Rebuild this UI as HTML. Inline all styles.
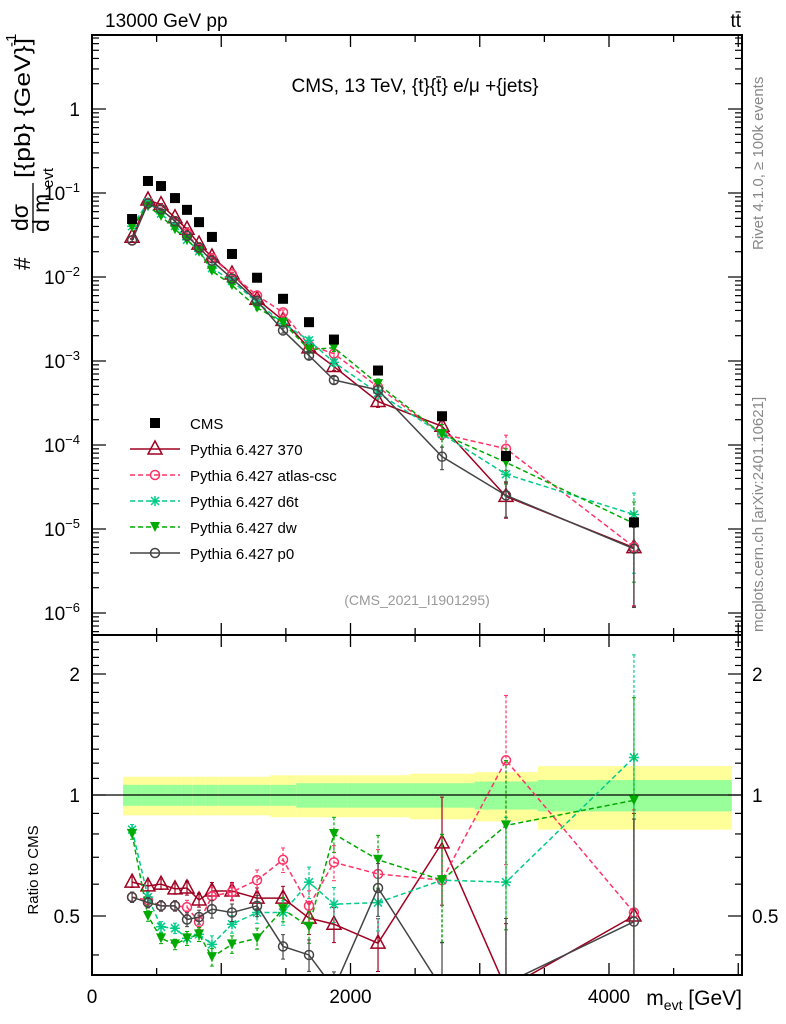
<!DOCTYPE html>
<html><head><meta charset="utf-8"><style>
html,body{margin:0;background:#fff;font-family:"Liberation Sans",sans-serif;width:786px;height:1024px;overflow:hidden}
svg{display:block}
</style></head><body>
<svg id="c" width="786" height="1024" viewBox="0 0 786 1024" xmlns="http://www.w3.org/2000/svg" font-family="Liberation Sans, sans-serif">
<text x="105" y="27" font-size="19">13000 GeV pp</text>
<text x="741" y="27" font-size="19" text-anchor="end">tt̄</text>
<text x="415" y="92" font-size="19" text-anchor="middle">CMS, 13 TeV, {t}{t̄} e/μ +{jets}</text>
<text transform="translate(763,250) rotate(-90)" font-size="15" fill="#888">Rivet 4.1.0, ≥ 100k events</text>
<text transform="translate(763,632) rotate(-90)" font-size="15" fill="#888">mcplots.cern.ch [arXiv:2401.10621]</text>
<text x="417" y="605" font-size="14" fill="#999" text-anchor="middle">(CMS_2021_I1901295)</text>
<g>
<text transform="translate(30,270) rotate(-90)" font-size="23">#</text>
<text transform="translate(28,231) rotate(-90)" font-size="23">dσ</text>
<line x1="33" y1="233" x2="33" y2="183" stroke="#000" stroke-width="1.3"/>
<text transform="translate(49,232) rotate(-90)" font-size="23">d m</text>
<text transform="translate(53,188) rotate(-90)" font-size="15">evt</text>
<text transform="translate(30,178) rotate(-90)" font-size="22" textLength="140" lengthAdjust="spacingAndGlyphs">[{pb} {GeV}]</text>
<text transform="translate(16,47) rotate(-90)" font-size="15">-1</text>
</g>
<text transform="translate(38,870) rotate(-90)" font-size="15" text-anchor="middle">Ratio to CMS</text>
<text x="742" y="1005" font-size="21" text-anchor="end">m<tspan font-size="14" dy="5">evt</tspan><tspan dy="-5"> [GeV]</tspan></text>
<g id="bands"></g><g id="grid"></g><g id="series"></g><g id="axes"></g><g id="legend"></g>
</svg>
<script>
const edges=[240,380,480,580,690,780,880,980,1180,1380,1580,1780,1980,2460,2960,3450,4950];
const centers=[310,433,534,642,735,828,928,1083,1277,1478,1679,1872,2213,2708,3203,4193];
const cms=[0.049,0.139,0.121,0.087,0.063,0.045,0.030,0.0188,0.0098,0.0055,0.0029,0.0018,0.00077,0.00022,0.000074,0.000012];
const bandOuter=[0.11,0.11,0.11,0.11,0.11,0.11,0.11,0.11,0.11,0.12,0.12,0.12,0.12,0.13,0.14,0.18];
const bandInner=[0.06,0.06,0.06,0.06,0.06,0.06,0.06,0.06,0.06,0.06,0.07,0.07,0.07,0.07,0.08,0.09];
const r370=[0.607,0.594,0.600,0.584,0.587,0.548,0.577,0.577,0.554,0.554,0.494,0.477,0.428,0.76,0.33,0.50];
const rAtlas=[0.557,0.548,0.53,0.53,0.526,0.483,0.56,0.574,0.614,0.69,0.53,0.68,0.636,0.614,1.22,0.51];
const rD6t=[0.82,0.557,0.47,0.466,0.44,0.45,0.425,0.477,0.51,0.51,0.607,0.535,0.54,0.614,0.607,1.24];
const rDw=[0.80,0.50,0.44,0.425,0.44,0.45,0.395,0.425,0.44,0.52,0.47,0.80,0.69,0.614,0.84,0.97];
const rP0=[0.557,0.54,0.53,0.53,0.49,0.497,0.52,0.51,0.53,0.42,0.40,0.33,0.587,0.33,0.34,0.484];
const relErr=[0.03,0.03,0.03,0.03,0.04,0.04,0.05,0.05,0.06,0.07,0.09,0.1,0.15,0.3,0.45,0.8];
const xTicks=[0,2000,4000];
const yTicks=[1,-1,-2,-3,-4,-5,-6];
const ratioTicks=[0.5,1,2];

const L=92,R=742,T=35,MB=635,RB=975;
const X=v=>L+v*0.12925;
const Y=v=>109-84*Math.log10(v);
const RY=v=>795-121*Math.log2(v);
const NS="http://www.w3.org/2000/svg";
function mk(tag,attrs,parent){const e=document.createElementNS(NS,tag);for(const k in attrs)e.setAttribute(k,attrs[k]);parent.appendChild(e);return e;}
const svg=document.getElementById('c');
const gb=document.getElementById('bands'),gs=document.getElementById('series'),ga=document.getElementById('axes'),gl=document.getElementById('legend');

for(let i=0;i<centers.length;i++){
  const x1=X(edges[i]),x2=X(edges[i+1]);
  let y1=RY(1+bandOuter[i]),y2=RY(1-bandOuter[i]);
  let r=mk('rect',{x:x1,y:y1,width:x2-x1,height:y2-y1,fill:'#ffff99'},gb);
  
  
  y1=RY(1+bandInner[i]);y2=RY(1-bandInner[i]);
  r=mk('rect',{x:x1,y:y1,width:x2-x1,height:y2-y1,fill:'#99ff99'},gb);
  
  
}
mk('line',{x1:L,x2:R,y1:RY(1),y2:RY(1),stroke:'#000','stroke-width':1.2},gb);

const defs=mk('defs',{},svg);
const c1=mk('clipPath',{id:'cm'},defs);mk('rect',{x:L,y:T,width:R-L,height:MB-T},c1);
const c2=mk('clipPath',{id:'cr'},defs);mk('rect',{x:L,y:MB,width:R-L,height:RB-MB},c2);

const series=[
 {name:'Pythia 6.427 370',r:r370,col:'#a00020',dash:'',mark:'tri'},
 {name:'Pythia 6.427 atlas-csc',r:rAtlas,col:'#ff3366',dash:'5,3',mark:'circ'},
 {name:'Pythia 6.427 d6t',r:rD6t,col:'#00cc88',dash:'5,3',mark:'star'},
 {name:'Pythia 6.427 dw',r:rDw,col:'#00aa00',dash:'5,3',mark:'tdown'},
 {name:'Pythia 6.427 p0',r:rP0,col:'#444444',dash:'',mark:'circ'}
];
function marker(type,x,y,col,g){
  if(type==='tri')return mk('path',{d:`M${x},${y-8}L${x+7},${y+5}L${x-7},${y+5}Z`,fill:'none',stroke:col,'stroke-width':1.5},g);
  if(type==='circ')return mk('circle',{cx:x,cy:y,r:4.5,fill:'none',stroke:col,'stroke-width':1.5},g);
  if(type==='tdown')return mk('path',{d:`M${x-5},${y-5}L${x+5},${y-5}L${x},${y+5}Z`,fill:col},g);
  if(type==='star')return mk('path',{d:`M${x-5},${y}H${x+5}M${x},${y-5}V${y+5}M${x-4},${y-4}L${x+4},${y+4}M${x-4},${y+4}L${x+4},${y-4}`,stroke:col,'stroke-width':1.5},g);
}
series.forEach((s,si)=>{
  [['main','url(#cm)'],['ratio','url(#cr)']].forEach(([pan,clip])=>{
    const g=mk('g',{'clip-path':clip},gs);
    
    
    const vals=s.r.map((r,i)=>pan==='main'?cms[i]*r:r);
    const fy=pan==='main'?Y:RY;
    const pts=vals.map((v,i)=>X(centers[i])+','+fy(v)).join(' ');
    mk('polyline',{points:pts,fill:'none',stroke:s.col,'stroke-width':1.5,'stroke-dasharray':s.dash},g);
    vals.forEach((v,i)=>{
      const x=X(centers[i]),e=relErr[i];
      const hi=fy(v*(1+e)),lo=fy(Math.max(v*(1-e),v*0.05));
      mk('line',{x1:x,x2:x,y1:hi,y2:lo,stroke:s.col,'stroke-width':1.2,'stroke-dasharray':s.dash?'3,2':''},g);
      mk('line',{x1:x-2,x2:x+2,y1:hi,y2:hi,stroke:s.col},g);
      mk('line',{x1:x-2,x2:x+2,y1:lo,y2:lo,stroke:s.col},g);
      const m=marker(s.mark,x,fy(v),s.col,g);
      
      
    });
  });
});
cms.forEach((v,i)=>{
  const r=mk('rect',{x:X(centers[i])-5,y:Y(v)-5,width:10,height:10,fill:'#000'},gs);
  
  
});

[[T,MB],[MB,RB]].forEach(([t,b])=>mk('rect',{x:L,y:t,width:R-L,height:b-t,fill:'none',stroke:'#000','stroke-width':2},ga));
for(let v=0;v<=5000;v+=500){
  const x=X(v),maj=v%1000===0?12:7;
  [[MB,-1],[T,1],[RB,-1],[MB,1]].forEach(([y,d])=>mk('line',{x1:x,x2:x,y1:y,y2:y+d*maj,stroke:'#000','stroke-width':1.3},ga));
}
xTicks.forEach(v=>{const t=mk('text',{x:X(v),y:1003,'font-size':19,'text-anchor':'middle'},ga);t.textContent=v;
 });
for(let d=-7;d<=1;d++){for(let k=1;k<10;k++){const y=Y(k*Math.pow(10,d));if(y<T||y>MB)continue;const len=k===1?14:7;
  mk('line',{x1:L,x2:L+len,y1:y,y2:y,stroke:'#000','stroke-width':1.2},ga);
  mk('line',{x1:R,x2:R-len,y1:y,y2:y,stroke:'#000','stroke-width':1.2},ga);}}
yTicks.forEach(e=>{const y=Y(Math.pow(10,e===1?0:e));const t=mk('text',{x:80,y:y+7,'font-size':19,'text-anchor':'end'},ga);
 if(e===1){t.textContent='1';}else{t.textContent='10';const s=mk('tspan',{dy:-8,'font-size':13},t);s.textContent='−'+(-e);}
 });
for(let v=0.3;v<=2.5;v+=0.1){const y=RY(v);if(y<MB||y>RB)continue;const maj=[0.5,1,2].some(m=>Math.abs(m-v)<1e-6);const len=maj?14:7;
  mk('line',{x1:L,x2:L+len,y1:y,y2:y,stroke:'#000','stroke-width':1.2},ga);
  mk('line',{x1:R,x2:R-len,y1:y,y2:y,stroke:'#000','stroke-width':1.2},ga);}
ratioTicks.forEach(v=>{[[80,'end'],[752,'start']].forEach(([x,a])=>{const t=mk('text',{x:x,y:RY(v)+7,'font-size':19,'text-anchor':a},ga);t.textContent=v;
 });});

const ly0=423;
let e=mk('rect',{x:150,y:ly0-5,width:10,height:10,fill:'#000'},gl);


let t=mk('text',{x:190,y:ly0+6,'font-size':15},gl);t.textContent='CMS';
series.forEach((s,i)=>{const y=ly0+26*(i+1);
  const g=mk('g',{},gl);
  
  
  mk('line',{x1:130,x2:180,y1:y,y2:y,stroke:s.col,'stroke-width':1.5,'stroke-dasharray':s.dash},g);
  marker(s.mark,155,y,s.col,g);
  const tx=mk('text',{x:190,y:y+6,'font-size':15},g);tx.textContent=s.name;});
</script>
</body></html>
